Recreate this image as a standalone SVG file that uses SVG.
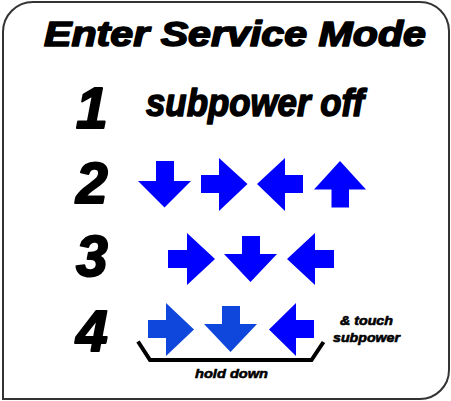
<svg xmlns="http://www.w3.org/2000/svg" width="451" height="401" viewBox="0 0 451 401">
<style>
  .t { font-family: "Liberation Sans", Arial, sans-serif; font-weight: bold; font-style: italic; fill: #000; stroke: #000; stroke-linejoin: round; }
  .big { stroke-width: 1.6; }
  .sm { stroke-width: 0.6; }
  .num { font-size: 57px; stroke-width: 2; }
  .a { fill: #0000FF; }
  .a4 { fill: #0F46DC; }
  .br { fill: none; stroke: #000; stroke-width: 4; stroke-linejoin: miter; }
</style>
<rect x="0" y="0" width="451" height="401" fill="#fff"/>
<path d="M33,2 H420 A29,29 0 0 1 449,31 V370 A29,29 0 0 1 420,399 H3 V32 A30,30 0 0 1 33,2 Z" fill="#fff" stroke="#333" stroke-width="2"/>
<g id="title"><text class="t big" x="44" y="46" font-size="35" textLength="382" lengthAdjust="spacingAndGlyphs">Enter Service Mode</text></g>
<g id="step1">
  <text class="t num" x="76" y="128">1</text>
  <text class="t big" x="146" y="116" font-size="39" textLength="218" lengthAdjust="spacingAndGlyphs">subpower off</text>
</g>
<g id="step2">
  <text class="t num" x="76" y="203">2</text>
  <polygon class="a" points="156,161 174,161 174,181 191,181 164.5,207.5 138,181 156,181"/>
  <polygon class="a" points="201,175 219,175 219,158 247.5,184 219,211 219,193 201,193"/>
  <polygon class="a" points="257,184 285,158 285,175 303,175 303,193 285,193 285,211"/>
  <polygon class="a" points="340,161 366,189.5 349,189.5 349,207.5 331.5,207.5 331.5,189.5 314,189.5"/>
</g>
<g id="step3">
  <text class="t num" x="76" y="276">3</text>
  <polygon class="a" points="168,250 187,250 187,233 215,259 187,285 187,268 168,268"/>
  <polygon class="a" points="242,236 260,236 260,254 277,254 250.5,282 224,254 242,254"/>
  <polygon class="a" points="287,259 315,233 315,250 334,250 334,268 315,268 315,285"/>
</g>
<g id="step4">
  <text class="t num" x="76" y="351">4</text>
  <polygon class="a4" points="148,320 166,320 166,303 194,329.5 166,356 166,338 148,338"/>
  <polygon class="a4" points="222,306 240,306 240,324 257,324 230.5,352 204,324 222,324"/>
  <polygon class="a" points="269,329.5 296,303 296,320 314,320 314,338 296,338 296,356"/>
  <text class="t sm" x="340" y="325" font-size="12.5" textLength="53" lengthAdjust="spacingAndGlyphs">&amp; touch</text>
  <text class="t sm" x="333" y="342" font-size="12.5" textLength="67" lengthAdjust="spacingAndGlyphs">subpower</text>
</g>
<g id="connectors">
  <polyline class="br" points="138,341.5 150,360 311.5,360 323.5,342"/>
</g>
<g id="holddown"><text class="t sm" x="195" y="378" font-size="13.5" textLength="73" lengthAdjust="spacingAndGlyphs">hold down</text></g>
</svg>
